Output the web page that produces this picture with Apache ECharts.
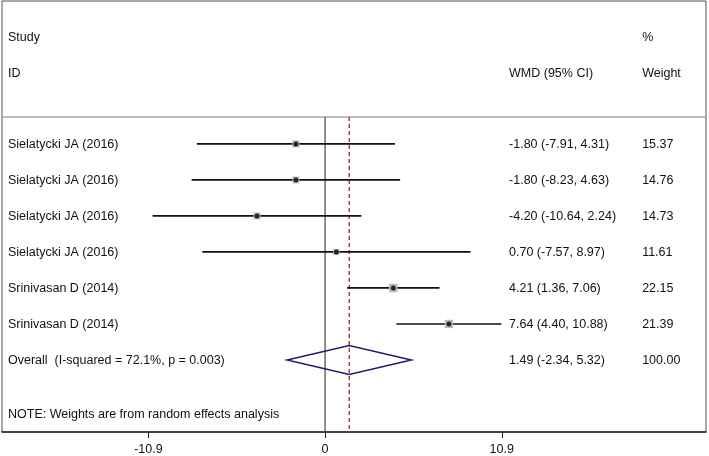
<!DOCTYPE html>
<html>
<head>
<meta charset="utf-8">
<script src="https://cdn.jsdelivr.net/npm/echarts@6/dist/echarts.min.js"></script>
<style>
html,body{margin:0;padding:0;background:#fff;}
#chart{width:709px;height:456px;}
</style>
</head>
<body>
<div id="chart"></div>
<script>
// ---- data ----
const studies = ["Sielatycki JA (2016)", "Sielatycki JA (2016)", "Sielatycki JA (2016)", "Sielatycki JA (2016)", "Srinivasan D (2014)", "Srinivasan D (2014)"];
const wmd = [-1.80, -1.80, -4.20, 0.70, 4.21, 7.64];
const lower = [-7.91, -8.23, -10.64, -7.57, 1.36, 4.40];
const upper = [4.31, 4.63, 2.24, 8.97, 7.06, 10.88];
const weights = [15.37, 14.76, 14.73, 11.61, 22.15, 21.39];
const overallLabel = "Overall  (I-squared = 72.1%, p = 0.003)";
const overallEst = [1.49];
const overallLower = [-2.34];
const overallUpper = [5.32];
const overallWeight = [100.00];
const xTicks = [-10.9, 0, 10.9];
const noteText = "NOTE: Weights are from random effects analysis";

// ---- layout (axis units) ----
const XMIN = -19.93, XMAX = 23.5;
const YMIN = -2.97, YMAX = 9.0;
const headerLineY = 0.25;
const colStudy = -19.56, colCI = 11.35, colW = 19.56;
const FONT = '12.5px "Liberation Sans", Arial, sans-serif';

const fmt = v => v.toFixed(2);
const rowsY = studies.map((_, i) => i + 1);
const overallY = studies.length + 1;

// text items
const texts = [];
texts.push([colStudy, -1.97, "Study"]);
texts.push([colStudy, -0.97, "ID"]);
texts.push([colCI, -0.97, "WMD (95% CI)"]);
texts.push([colW, -1.97, "%"]);
texts.push([colW, -0.97, "Weight"]);
studies.forEach((s, i) => {
  texts.push([colStudy, rowsY[i], s]);
  texts.push([colCI, rowsY[i], fmt(wmd[i]) + " (" + fmt(lower[i]) + ", " + fmt(upper[i]) + ")"]);
  texts.push([colW, rowsY[i], fmt(weights[i])]);
});
texts.push([colStudy, overallY, overallLabel]);
texts.push([colCI, overallY, fmt(overallEst[0]) + " (" + fmt(overallLower[0]) + ", " + fmt(overallUpper[0]) + ")"]);
texts.push([colW, overallY, fmt(overallWeight[0])]);
texts.push([colStudy, 8.5, noteText]);

const chart = echarts.init(document.getElementById('chart'), null, {renderer: 'canvas'});

const option = {
  animation: false,
  backgroundColor: '#fff',
  grid: {left: 2, top: 1, width: 704, height: 431, show: true, borderColor: '#555', borderWidth: 1, containLabel: false},
  xAxis: {
    type: 'value', min: XMIN, max: XMAX,
    splitLine: {show: false},
    axisLine: {show: true, onZero: false, lineStyle: {color: '#222', width: 1.6}},
    axisTick: {show: true, customValues: xTicks, length: 6, lineStyle: {color: '#222', width: 1}},
    axisLabel: {show: true, customValues: xTicks, color: '#111', fontFamily: '"Liberation Sans", Arial, sans-serif', fontSize: 12.5, margin: 11,
      formatter: v => String(Math.round(v * 10) / 10)}
  },
  yAxis: {type: 'value', min: YMIN, max: YMAX, inverse: true, show: false, splitLine: {show: false}},
  series: [
    // header separator line
    {
      type: 'custom', silent: true, clip: false,
      data: [[XMIN, XMAX, headerLineY]],
      renderItem: (params, api) => {
        const a = api.coord([api.value(0), api.value(2)]);
        const b = api.coord([api.value(1), api.value(2)]);
        return {type: 'line', shape: {x1: a[0], y1: a[1], x2: b[0], y2: b[1]}, style: {stroke: '#aaa', lineWidth: 1.5}};
      }
    },
    // null line at 0 and overall dashed line
    {
      type: 'custom', silent: true, clip: false,
      data: [[0, headerLineY, YMAX, 0], [overallEst[0], headerLineY, YMAX, 1]],
      renderItem: (params, api) => {
        const a = api.coord([api.value(0), api.value(1)]);
        const b = api.coord([api.value(0), api.value(2)]);
        const dashed = api.value(3) === 1;
        return {type: 'line', shape: {x1: a[0], y1: a[1], x2: b[0], y2: b[1]},
          style: dashed ? {stroke: '#a02828', lineWidth: 1.3, lineDash: [4, 3]} : {stroke: '#444', lineWidth: 1.2}};
      }
    },
    // CI lines
    {
      type: 'custom', silent: true,
      data: rowsY.map((y, i) => [lower[i], upper[i], y]),
      renderItem: (params, api) => {
        const a = api.coord([api.value(0), api.value(2)]);
        const b = api.coord([api.value(1), api.value(2)]);
        return {type: 'line', shape: {x1: a[0], y1: a[1], x2: b[0], y2: b[1]}, style: {stroke: '#111', lineWidth: 1.7}};
      }
    },
    // weight boxes
    {
      type: 'scatter', silent: true,
      symbol: 'rect',
      symbolSize: (val, p) => Math.sqrt(weights[p.dataIndex]) * 1.8,
      itemStyle: {color: '#b8b8b8', opacity: 1},
      data: rowsY.map((y, i) => [wmd[i], y])
    },
    // point estimates
    {
      type: 'scatter', silent: true,
      symbol: 'circle', symbolSize: 5,
      itemStyle: {color: '#000'},
      data: rowsY.map((y, i) => [wmd[i], y])
    },
    // overall diamond
    {
      type: 'custom', silent: true,
      data: [[overallLower[0], overallEst[0], overallUpper[0], overallY]],
      renderItem: (params, api) => {
        const y = api.value(3);
        const l = api.coord([api.value(0), y]);
        const c = api.coord([api.value(1), y]);
        const r = api.coord([api.value(2), y]);
        const h = 14.5;
        return {type: 'polygon', shape: {points: [[l[0], l[1]], [c[0], c[1] - h], [r[0], r[1]], [c[0], c[1] + h]]},
          style: {fill: 'none', stroke: '#1c1c6b', lineWidth: 1.5}};
      }
    },
    // texts
    {
      type: 'custom', silent: true, clip: false,
      data: texts.map((t, i) => [t[0], t[1], i]),
      renderItem: (params, api) => {
        const p = api.coord([api.value(0), api.value(1)]);
        const t = texts[api.value(2)][2];
        return {type: 'text', x: p[0], y: p[1] + 1, style: {text: t, font: FONT, fill: '#111', align: 'left', verticalAlign: 'middle'}};
      }
    }
  ]
};
chart.setOption(option);
</script>
</body>
</html>
